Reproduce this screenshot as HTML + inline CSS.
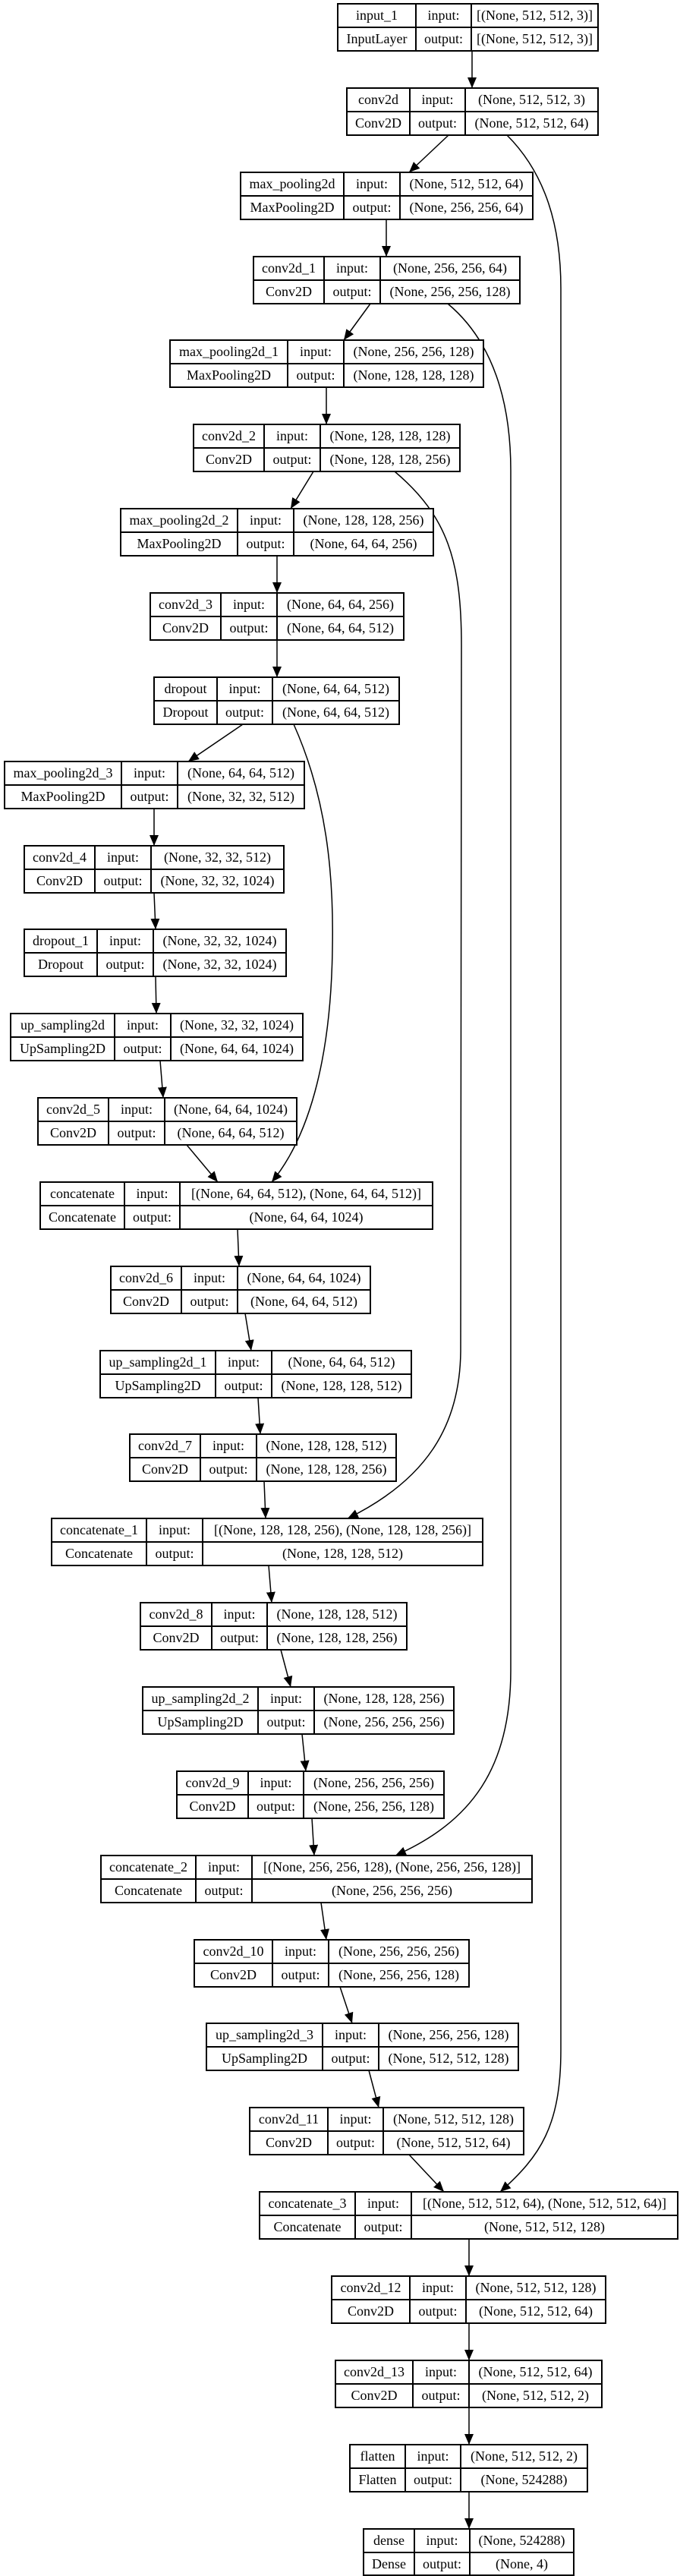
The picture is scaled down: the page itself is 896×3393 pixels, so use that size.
<!DOCTYPE html>
<html><head><meta charset="utf-8"><style>
html,body{margin:0;padding:0;background:#fff;}
svg{display:block;}
text{font-family:"Liberation Serif",serif;font-size:18px;fill:#000;text-anchor:middle;}
rect{fill:#fff;stroke:#000;stroke-width:2;}
.n line{stroke:#000;stroke-width:2;}
.e{fill:none;stroke:#000;stroke-width:1.5;}
</style></head><body>
<svg width="896" height="3393" viewBox="0 0 896 3393" xmlns="http://www.w3.org/2000/svg">
<defs><marker id="a" markerUnits="userSpaceOnUse" markerWidth="14" markerHeight="12" refX="14" refY="6" orient="auto"><polygon points="0,0 14,6 0,12" fill="#000"/></marker></defs>

<g class="edges">
<path class="e" marker-end="url(#a)" d="M622 67 L622 116"/>
<path class="e" marker-end="url(#a)" d="M591 178 L539 227"/>
<path class="e" marker-end="url(#a)" d="M509 289 L509 338"/>
<path class="e" marker-end="url(#a)" d="M488 400 L453 448"/>
<path class="e" marker-end="url(#a)" d="M430 510 L430 559"/>
<path class="e" marker-end="url(#a)" d="M413 621 L383 670"/>
<path class="e" marker-end="url(#a)" d="M365 732 L365 781"/>
<path class="e" marker-end="url(#a)" d="M365 843 L365 892"/>
<path class="e" marker-end="url(#a)" d="M320 954 L248 1003"/>
<path class="e" marker-end="url(#a)" d="M203 1065 L203 1114"/>
<path class="e" marker-end="url(#a)" d="M203 1176 L205 1224"/>
<path class="e" marker-end="url(#a)" d="M205 1286 L206 1335"/>
<path class="e" marker-end="url(#a)" d="M211 1397 L215 1446"/>
<path class="e" marker-end="url(#a)" d="M246 1508 L287 1557"/>
<path class="e" marker-end="url(#a)" d="M387 954 C 430 1050, 440 1150, 438 1250 C 436 1400, 405 1500, 358 1557"/>
<path class="e" marker-end="url(#a)" d="M313 1619 L315 1668"/>
<path class="e" marker-end="url(#a)" d="M323 1730 L331 1779"/>
<path class="e" marker-end="url(#a)" d="M340 1841 L343 1889"/>
<path class="e" marker-end="url(#a)" d="M520 621 C 590 680, 608 740, 608 850 L607 1780 C 606 1880, 560 1950, 458 2000"/>
<path class="e" marker-end="url(#a)" d="M348 1951 L350 2000"/>
<path class="e" marker-end="url(#a)" d="M354 2062 L358 2111"/>
<path class="e" marker-end="url(#a)" d="M370 2173 L383 2222"/>
<path class="e" marker-end="url(#a)" d="M398 2284 L403 2333"/>
<path class="e" marker-end="url(#a)" d="M590 400 C 650 450, 673 530, 673 620 L673 2200 C 673 2330, 620 2400, 521 2444"/>
<path class="e" marker-end="url(#a)" d="M411 2395 L414 2444"/>
<path class="e" marker-end="url(#a)" d="M423 2506 L430 2555"/>
<path class="e" marker-end="url(#a)" d="M448 2617 L464 2665"/>
<path class="e" marker-end="url(#a)" d="M486 2727 L499 2776"/>
<path class="e" marker-end="url(#a)" d="M668 178 C 720 230, 739 300, 739 380 L739 2700 C 739 2800, 712 2840, 659 2887"/>
<path class="e" marker-end="url(#a)" d="M539 2838 L585 2887"/>
<path class="e" marker-end="url(#a)" d="M618 2949 L618 2998"/>
<path class="e" marker-end="url(#a)" d="M618 3060 L618 3109"/>
<path class="e" marker-end="url(#a)" d="M618 3171 L618 3220"/>
<path class="e" marker-end="url(#a)" d="M618 3282 L618 3331"/>
</g>

<g class="n" transform="translate(0,5)"><rect x="445" y="0" width="343" height="62"/><line x1="445" y1="31" x2="788" y2="31"/><line x1="548" y1="0" x2="548" y2="62"/><line x1="621" y1="0" x2="621" y2="62"/>
<text x="496.5" y="21">input_1</text><text x="496.5" y="52">InputLayer</text><text x="584.5" y="21">input:</text><text x="584.5" y="52">output:</text><text x="704.5" y="21">[(None, 512, 512, 3)]</text><text x="704.5" y="52">[(None, 512, 512, 3)]</text></g>

<g class="n" transform="translate(0,116)"><rect x="457" y="0" width="331" height="62"/><line x1="457" y1="31" x2="788" y2="31"/><line x1="540" y1="0" x2="540" y2="62"/><line x1="613" y1="0" x2="613" y2="62"/>
<text x="498.5" y="21">conv2d</text><text x="498.5" y="52">Conv2D</text><text x="576.5" y="21">input:</text><text x="576.5" y="52">output:</text><text x="700.5" y="21">(None, 512, 512, 3)</text><text x="700.5" y="52">(None, 512, 512, 64)</text></g>

<g class="n" transform="translate(0,227)"><rect x="317" y="0" width="385" height="62"/><line x1="317" y1="31" x2="702" y2="31"/><line x1="453" y1="0" x2="453" y2="62"/><line x1="527" y1="0" x2="527" y2="62"/>
<text x="385" y="21">max_pooling2d</text><text x="385" y="52">MaxPooling2D</text><text x="490" y="21">input:</text><text x="490" y="52">output:</text><text x="614.5" y="21">(None, 512, 512, 64)</text><text x="614.5" y="52">(None, 256, 256, 64)</text></g>

<g class="n" transform="translate(0,338)"><rect x="334" y="0" width="351" height="62"/><line x1="334" y1="31" x2="685" y2="31"/><line x1="427" y1="0" x2="427" y2="62"/><line x1="501" y1="0" x2="501" y2="62"/>
<text x="380.5" y="21">conv2d_1</text><text x="380.5" y="52">Conv2D</text><text x="464" y="21">input:</text><text x="464" y="52">output:</text><text x="593" y="21">(None, 256, 256, 64)</text><text x="593" y="52">(None, 256, 256, 128)</text></g>

<g class="n" transform="translate(0,448)"><rect x="224" y="0" width="413" height="62"/><line x1="224" y1="31" x2="637" y2="31"/><line x1="379" y1="0" x2="379" y2="62"/><line x1="453" y1="0" x2="453" y2="62"/>
<text x="301.5" y="21">max_pooling2d_1</text><text x="301.5" y="52">MaxPooling2D</text><text x="416" y="21">input:</text><text x="416" y="52">output:</text><text x="545" y="21">(None, 256, 256, 128)</text><text x="545" y="52">(None, 128, 128, 128)</text></g>

<g class="n" transform="translate(0,559)"><rect x="255" y="0" width="351" height="62"/><line x1="255" y1="31" x2="606" y2="31"/><line x1="348" y1="0" x2="348" y2="62"/><line x1="422" y1="0" x2="422" y2="62"/>
<text x="301.5" y="21">conv2d_2</text><text x="301.5" y="52">Conv2D</text><text x="385" y="21">input:</text><text x="385" y="52">output:</text><text x="514" y="21">(None, 128, 128, 128)</text><text x="514" y="52">(None, 128, 128, 256)</text></g>

<g class="n" transform="translate(0,670)"><rect x="159" y="0" width="412" height="62"/><line x1="159" y1="31" x2="571" y2="31"/><line x1="313" y1="0" x2="313" y2="62"/><line x1="387" y1="0" x2="387" y2="62"/>
<text x="236" y="21">max_pooling2d_2</text><text x="236" y="52">MaxPooling2D</text><text x="350" y="21">input:</text><text x="350" y="52">output:</text><text x="479" y="21">(None, 128, 128, 256)</text><text x="479" y="52">(None, 64, 64, 256)</text></g>

<g class="n" transform="translate(0,781)"><rect x="198" y="0" width="334" height="62"/><line x1="198" y1="31" x2="532" y2="31"/><line x1="291" y1="0" x2="291" y2="62"/><line x1="365" y1="0" x2="365" y2="62"/>
<text x="244.5" y="21">conv2d_3</text><text x="244.5" y="52">Conv2D</text><text x="328" y="21">input:</text><text x="328" y="52">output:</text><text x="448.5" y="21">(None, 64, 64, 256)</text><text x="448.5" y="52">(None, 64, 64, 512)</text></g>

<g class="n" transform="translate(0,892)"><rect x="203" y="0" width="323" height="62"/><line x1="203" y1="31" x2="526" y2="31"/><line x1="286" y1="0" x2="286" y2="62"/><line x1="359" y1="0" x2="359" y2="62"/>
<text x="244.5" y="21">dropout</text><text x="244.5" y="52">Dropout</text><text x="322.5" y="21">input:</text><text x="322.5" y="52">output:</text><text x="442.5" y="21">(None, 64, 64, 512)</text><text x="442.5" y="52">(None, 64, 64, 512)</text></g>

<g class="n" transform="translate(0,1003)"><rect x="6" y="0" width="395" height="62"/><line x1="6" y1="31" x2="401" y2="31"/><line x1="160" y1="0" x2="160" y2="62"/><line x1="234" y1="0" x2="234" y2="62"/>
<text x="83" y="21">max_pooling2d_3</text><text x="83" y="52">MaxPooling2D</text><text x="197" y="21">input:</text><text x="197" y="52">output:</text><text x="317.5" y="21">(None, 64, 64, 512)</text><text x="317.5" y="52">(None, 32, 32, 512)</text></g>

<g class="n" transform="translate(0,1114)"><rect x="32" y="0" width="342" height="62"/><line x1="32" y1="31" x2="374" y2="31"/><line x1="125" y1="0" x2="125" y2="62"/><line x1="199" y1="0" x2="199" y2="62"/>
<text x="78.5" y="21">conv2d_4</text><text x="78.5" y="52">Conv2D</text><text x="162" y="21">input:</text><text x="162" y="52">output:</text><text x="286.5" y="21">(None, 32, 32, 512)</text><text x="286.5" y="52">(None, 32, 32, 1024)</text></g>

<g class="n" transform="translate(0,1224)"><rect x="32" y="0" width="345" height="62"/><line x1="32" y1="31" x2="377" y2="31"/><line x1="128" y1="0" x2="128" y2="62"/><line x1="202" y1="0" x2="202" y2="62"/>
<text x="80" y="21">dropout_1</text><text x="80" y="52">Dropout</text><text x="165" y="21">input:</text><text x="165" y="52">output:</text><text x="289.5" y="21">(None, 32, 32, 1024)</text><text x="289.5" y="52">(None, 32, 32, 1024)</text></g>

<g class="n" transform="translate(0,1335)"><rect x="14" y="0" width="385" height="62"/><line x1="14" y1="31" x2="399" y2="31"/><line x1="151" y1="0" x2="151" y2="62"/><line x1="225" y1="0" x2="225" y2="62"/>
<text x="82.5" y="21">up_sampling2d</text><text x="82.5" y="52">UpSampling2D</text><text x="188" y="21">input:</text><text x="188" y="52">output:</text><text x="312" y="21">(None, 32, 32, 1024)</text><text x="312" y="52">(None, 64, 64, 1024)</text></g>

<g class="n" transform="translate(0,1446)"><rect x="50" y="0" width="341" height="62"/><line x1="50" y1="31" x2="391" y2="31"/><line x1="143" y1="0" x2="143" y2="62"/><line x1="217" y1="0" x2="217" y2="62"/>
<text x="96.5" y="21">conv2d_5</text><text x="96.5" y="52">Conv2D</text><text x="180" y="21">input:</text><text x="180" y="52">output:</text><text x="304" y="21">(None, 64, 64, 1024)</text><text x="304" y="52">(None, 64, 64, 512)</text></g>

<g class="n" transform="translate(0,1557)"><rect x="53" y="0" width="517" height="62"/><line x1="53" y1="31" x2="570" y2="31"/><line x1="164" y1="0" x2="164" y2="62"/><line x1="237" y1="0" x2="237" y2="62"/>
<text x="108.5" y="21">concatenate</text><text x="108.5" y="52">Concatenate</text><text x="200.5" y="21">input:</text><text x="200.5" y="52">output:</text><text x="403.5" y="21">[(None, 64, 64, 512), (None, 64, 64, 512)]</text><text x="403.5" y="52">(None, 64, 64, 1024)</text></g>

<g class="n" transform="translate(0,1668)"><rect x="146" y="0" width="342" height="62"/><line x1="146" y1="31" x2="488" y2="31"/><line x1="239" y1="0" x2="239" y2="62"/><line x1="313" y1="0" x2="313" y2="62"/>
<text x="192.5" y="21">conv2d_6</text><text x="192.5" y="52">Conv2D</text><text x="276" y="21">input:</text><text x="276" y="52">output:</text><text x="400.5" y="21">(None, 64, 64, 1024)</text><text x="400.5" y="52">(None, 64, 64, 512)</text></g>

<g class="n" transform="translate(0,1779)"><rect x="132" y="0" width="410" height="62"/><line x1="132" y1="31" x2="542" y2="31"/><line x1="284" y1="0" x2="284" y2="62"/><line x1="358" y1="0" x2="358" y2="62"/>
<text x="208" y="21">up_sampling2d_1</text><text x="208" y="52">UpSampling2D</text><text x="321" y="21">input:</text><text x="321" y="52">output:</text><text x="450" y="21">(None, 64, 64, 512)</text><text x="450" y="52">(None, 128, 128, 512)</text></g>

<g class="n" transform="translate(0,1889)"><rect x="171" y="0" width="351" height="62"/><line x1="171" y1="31" x2="522" y2="31"/><line x1="264" y1="0" x2="264" y2="62"/><line x1="338" y1="0" x2="338" y2="62"/>
<text x="217.5" y="21">conv2d_7</text><text x="217.5" y="52">Conv2D</text><text x="301" y="21">input:</text><text x="301" y="52">output:</text><text x="430" y="21">(None, 128, 128, 512)</text><text x="430" y="52">(None, 128, 128, 256)</text></g>

<g class="n" transform="translate(0,2000)"><rect x="68" y="0" width="568" height="62"/><line x1="68" y1="31" x2="636" y2="31"/><line x1="193" y1="0" x2="193" y2="62"/><line x1="267" y1="0" x2="267" y2="62"/>
<text x="130.5" y="21">concatenate_1</text><text x="130.5" y="52">Concatenate</text><text x="230" y="21">input:</text><text x="230" y="52">output:</text><text x="451.5" y="21">[(None, 128, 128, 256), (None, 128, 128, 256)]</text><text x="451.5" y="52">(None, 128, 128, 512)</text></g>

<g class="n" transform="translate(0,2111)"><rect x="185" y="0" width="351" height="62"/><line x1="185" y1="31" x2="536" y2="31"/><line x1="279" y1="0" x2="279" y2="62"/><line x1="352" y1="0" x2="352" y2="62"/>
<text x="232" y="21">conv2d_8</text><text x="232" y="52">Conv2D</text><text x="315.5" y="21">input:</text><text x="315.5" y="52">output:</text><text x="444" y="21">(None, 128, 128, 512)</text><text x="444" y="52">(None, 128, 128, 256)</text></g>

<g class="n" transform="translate(0,2222)"><rect x="188" y="0" width="410" height="62"/><line x1="188" y1="31" x2="598" y2="31"/><line x1="340" y1="0" x2="340" y2="62"/><line x1="414" y1="0" x2="414" y2="62"/>
<text x="264" y="21">up_sampling2d_2</text><text x="264" y="52">UpSampling2D</text><text x="377" y="21">input:</text><text x="377" y="52">output:</text><text x="506" y="21">(None, 128, 128, 256)</text><text x="506" y="52">(None, 256, 256, 256)</text></g>

<g class="n" transform="translate(0,2333)"><rect x="233" y="0" width="352" height="62"/><line x1="233" y1="31" x2="585" y2="31"/><line x1="327" y1="0" x2="327" y2="62"/><line x1="400" y1="0" x2="400" y2="62"/>
<text x="280" y="21">conv2d_9</text><text x="280" y="52">Conv2D</text><text x="363.5" y="21">input:</text><text x="363.5" y="52">output:</text><text x="492.5" y="21">(None, 256, 256, 256)</text><text x="492.5" y="52">(None, 256, 256, 128)</text></g>

<g class="n" transform="translate(0,2444)"><rect x="133" y="0" width="568" height="62"/><line x1="133" y1="31" x2="701" y2="31"/><line x1="258" y1="0" x2="258" y2="62"/><line x1="332" y1="0" x2="332" y2="62"/>
<text x="195.5" y="21">concatenate_2</text><text x="195.5" y="52">Concatenate</text><text x="295" y="21">input:</text><text x="295" y="52">output:</text><text x="516.5" y="21">[(None, 256, 256, 128), (None, 256, 256, 128)]</text><text x="516.5" y="52">(None, 256, 256, 256)</text></g>

<g class="n" transform="translate(0,2555)"><rect x="256" y="0" width="362" height="62"/><line x1="256" y1="31" x2="618" y2="31"/><line x1="359" y1="0" x2="359" y2="62"/><line x1="433" y1="0" x2="433" y2="62"/>
<text x="307.5" y="21">conv2d_10</text><text x="307.5" y="52">Conv2D</text><text x="396" y="21">input:</text><text x="396" y="52">output:</text><text x="525.5" y="21">(None, 256, 256, 256)</text><text x="525.5" y="52">(None, 256, 256, 128)</text></g>

<g class="n" transform="translate(0,2665)"><rect x="272" y="0" width="411" height="62"/><line x1="272" y1="31" x2="683" y2="31"/><line x1="425" y1="0" x2="425" y2="62"/><line x1="499" y1="0" x2="499" y2="62"/>
<text x="348.5" y="21">up_sampling2d_3</text><text x="348.5" y="52">UpSampling2D</text><text x="462" y="21">input:</text><text x="462" y="52">output:</text><text x="591" y="21">(None, 256, 256, 128)</text><text x="591" y="52">(None, 512, 512, 128)</text></g>

<g class="n" transform="translate(0,2776)"><rect x="329" y="0" width="361" height="62"/><line x1="329" y1="31" x2="690" y2="31"/><line x1="432" y1="0" x2="432" y2="62"/><line x1="505" y1="0" x2="505" y2="62"/>
<text x="380.5" y="21">conv2d_11</text><text x="380.5" y="52">Conv2D</text><text x="468.5" y="21">input:</text><text x="468.5" y="52">output:</text><text x="597.5" y="21">(None, 512, 512, 128)</text><text x="597.5" y="52">(None, 512, 512, 64)</text></g>

<g class="n" transform="translate(0,2887)"><rect x="342" y="0" width="551" height="62"/><line x1="342" y1="31" x2="893" y2="31"/><line x1="468" y1="0" x2="468" y2="62"/><line x1="542" y1="0" x2="542" y2="62"/>
<text x="405" y="21">concatenate_3</text><text x="405" y="52">Concatenate</text><text x="505" y="21">input:</text><text x="505" y="52">output:</text><text x="717.5" y="21">[(None, 512, 512, 64), (None, 512, 512, 64)]</text><text x="717.5" y="52">(None, 512, 512, 128)</text></g>

<g class="n" transform="translate(0,2998)"><rect x="437" y="0" width="361" height="62"/><line x1="437" y1="31" x2="798" y2="31"/><line x1="540" y1="0" x2="540" y2="62"/><line x1="614" y1="0" x2="614" y2="62"/>
<text x="488.5" y="21">conv2d_12</text><text x="488.5" y="52">Conv2D</text><text x="577" y="21">input:</text><text x="577" y="52">output:</text><text x="706" y="21">(None, 512, 512, 128)</text><text x="706" y="52">(None, 512, 512, 64)</text></g>

<g class="n" transform="translate(0,3109)"><rect x="442" y="0" width="351" height="62"/><line x1="442" y1="31" x2="793" y2="31"/><line x1="544" y1="0" x2="544" y2="62"/><line x1="618" y1="0" x2="618" y2="62"/>
<text x="493" y="21">conv2d_13</text><text x="493" y="52">Conv2D</text><text x="581" y="21">input:</text><text x="581" y="52">output:</text><text x="705.5" y="21">(None, 512, 512, 64)</text><text x="705.5" y="52">(None, 512, 512, 2)</text></g>

<g class="n" transform="translate(0,3220)"><rect x="461" y="0" width="313" height="62"/><line x1="461" y1="31" x2="774" y2="31"/><line x1="534" y1="0" x2="534" y2="62"/><line x1="607" y1="0" x2="607" y2="62"/>
<text x="497.5" y="21">flatten</text><text x="497.5" y="52">Flatten</text><text x="570.5" y="21">input:</text><text x="570.5" y="52">output:</text><text x="690.5" y="21">(None, 512, 512, 2)</text><text x="690.5" y="52">(None, 524288)</text></g>

<g class="n" transform="translate(0,3331)"><rect x="479" y="0" width="277" height="61"/><line x1="479" y1="31" x2="756" y2="31"/><line x1="546" y1="0" x2="546" y2="61"/><line x1="619" y1="0" x2="619" y2="61"/>
<text x="512.5" y="21">dense</text><text x="512.5" y="52">Dense</text><text x="582.5" y="21">input:</text><text x="582.5" y="52">output:</text><text x="687.5" y="21">(None, 524288)</text><text x="687.5" y="52">(None, 4)</text></g>
</svg>
</body></html>
